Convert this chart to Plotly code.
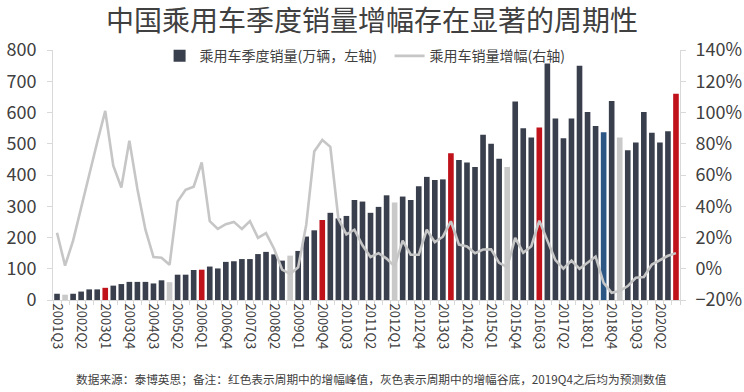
import plotly.graph_objects as go

quarters = [
    "2001Q3", "2001Q4",
    "2002Q1", "2002Q2", "2002Q3", "2002Q4",
    "2003Q1", "2003Q2", "2003Q3", "2003Q4",
    "2004Q1", "2004Q2", "2004Q3", "2004Q4",
    "2005Q1", "2005Q2", "2005Q3", "2005Q4",
    "2006Q1", "2006Q2", "2006Q3", "2006Q4",
    "2007Q1", "2007Q2", "2007Q3", "2007Q4",
    "2008Q1", "2008Q2", "2008Q3", "2008Q4",
    "2009Q1", "2009Q2", "2009Q3", "2009Q4",
    "2010Q1", "2010Q2", "2010Q3", "2010Q4",
    "2011Q1", "2011Q2", "2011Q3", "2011Q4",
    "2012Q1", "2012Q2", "2012Q3", "2012Q4",
    "2013Q1", "2013Q2", "2013Q3", "2013Q4",
    "2014Q1", "2014Q2", "2014Q3", "2014Q4",
    "2015Q1", "2015Q2", "2015Q3", "2015Q4",
    "2016Q1", "2016Q2", "2016Q3", "2016Q4",
    "2017Q1", "2017Q2", "2017Q3", "2017Q4",
    "2018Q1", "2018Q2", "2018Q3", "2018Q4",
    "2019Q1", "2019Q2", "2019Q3", "2019Q4",
    "2020Q1", "2020Q2", "2020Q3", "2020Q4",
]

# 乘用车季度销量 (万辆, 左轴)
sales = [
    20, 17,
    20, 27, 34, 34,
    39, 46, 51, 58,
    58, 58, 53, 63,
    57, 81, 81, 96,
    97, 107, 101, 122,
    124, 131, 131, 147,
    154, 146, 126, 142,
    157, 203, 223, 256,
    279, 261, 269, 320,
    315, 279, 298, 335,
    312, 331, 320, 364,
    394, 384, 386, 470,
    448, 440, 426, 529,
    500, 452, 426, 635,
    550, 520, 552, 757,
    581, 518, 581, 750,
    602, 557, 537, 637,
    520, 479, 504, 602,
    535, 504, 540, 660,
]

# 乘用车销量增幅 (%, 右轴)
growth = [
    23, 2,
    18, 40, 60, 81,
    101, 66, 52, 82,
    51, 25, 7.5, 7,
    2.5, 43, 50.5, 52.5,
    68, 30.5, 25.5, 28.5,
    30, 25.5, 30.5, 19.8,
    22.8, 12.8, -0.5, -3.3,
    1, 28, 75, 82.4,
    78, 32, 22, 25,
    15, 7.5, 10, 6.5,
    1.5, 18, 9, 9,
    25, 17, 20.5, 30.4,
    15.5, 14.3, 10, 12.3,
    12.5, 3.8, 1, 19.8,
    10.2, 14.4, 30.8, 18,
    5.5, 0, 5.2, 0,
    3.8, 7.8, -9, -15.4,
    -14.3, -11.1, -5.8, -5.3,
    2.7, 5.4, 8.3, 10,
]

peak_quarters = ["2003Q1", "2006Q1", "2009Q4", "2013Q4", "2016Q3", "2020Q4"]
trough_quarters = ["2001Q4", "2005Q1", "2008Q4", "2012Q1", "2015Q3", "2019Q1"]
blue_quarters = ["2018Q3"]

tick_labels = [
    "2001Q3", "2002Q2", "2003Q1", "2003Q4", "2004Q3", "2005Q2", "2006Q1",
    "2006Q4", "2007Q3", "2008Q2", "2009Q1", "2009Q4", "2010Q3", "2011Q2",
    "2012Q1", "2012Q4", "2013Q3", "2014Q2", "2015Q1", "2015Q4", "2016Q3",
    "2017Q2", "2018Q1", "2018Q4", "2019Q3", "2020Q2",
]

DARK = "#393F4C"
RED = "#C0121B"
GREY = "#C9C9C9"
BLUE = "#2C5785"
AXIS = "#D9D9D9"
TEXT = "#404040"
FONT = "Noto Sans CJK SC"

bar_colors = []
for q in quarters:
    if q in peak_quarters:
        bar_colors.append(RED)
    elif q in trough_quarters:
        bar_colors.append(GREY)
    elif q in blue_quarters:
        bar_colors.append(BLUE)
    else:
        bar_colors.append(DARK)

ticktext = [q if q in tick_labels else "" for q in quarters]

fig = go.Figure()
fig.add_trace(go.Bar(
    x=quarters, y=sales, name="乘用车季度销量(万辆，左轴)",
    marker=dict(color=bar_colors, line=dict(width=0)),
    yaxis="y",
))
fig.add_trace(go.Scatter(
    x=quarters, y=growth, name="乘用车销量增幅(右轴)",
    mode="lines", line=dict(color="#C6C6C6", width=2.6),
    yaxis="y2",
))

fig.update_layout(
    width=744, height=392,
    margin=dict(l=53, r=64, t=50, b=92),
    paper_bgcolor="white", plot_bgcolor="white",
    font=dict(family=FONT, color=TEXT),
    bargap=0.3,
    showlegend=True,
    title=dict(
        text="中国乘用车季度销量增幅存在显著的周期性",
        x=0.5, xanchor="center", y=1 - 21 / 392, yanchor="middle",
        yref="container",
        font=dict(size=28, color=TEXT, family=FONT),
    ),
    legend=dict(
        orientation="h", x=0.17, xanchor="left", y=0.975, yanchor="middle",
        font=dict(size=14, color=TEXT, family=FONT),
        bgcolor="rgba(0,0,0,0)", itemwidth=30,
        entrywidth=185, entrywidthmode="pixels",
    ),
    xaxis=dict(
        type="category",
        tickmode="array", tickvals=quarters, ticktext=ticktext,
        tickangle=90, tickfont=dict(size=13, color=TEXT),
        showline=True, linecolor=AXIS, linewidth=1,
        ticks="outside", ticklen=4, tickcolor=AXIS, tickson="boundaries",
        showgrid=False, zeroline=False, automargin=False,
    ),
    yaxis=dict(
        range=[0, 800], dtick=100,
        showline=True, linecolor=AXIS, linewidth=1,
        ticks="outside", ticklen=5, tickcolor=AXIS,
        tickfont=dict(size=18, color=TEXT), ticklabelstandoff=7,
        showgrid=False, zeroline=False, automargin=False,
    ),
    yaxis2=dict(
        range=[-20, 140], dtick=20, ticksuffix="%",
        overlaying="y", side="right",
        showline=True, linecolor=AXIS, linewidth=1,
        ticks="outside", ticklen=5, tickcolor=AXIS,
        tickfont=dict(size=18, color=TEXT), ticklabelstandoff=6,
        showgrid=False, zeroline=False, automargin=False,
    ),
    annotations=[dict(
        text="数据来源：泰博英思；备注：红色表示周期中的增幅峰值，灰色表示周期中的增幅谷底，2019Q4之后均为预测数值",
        xref="paper", yref="paper", x=0.508, y=-0.312,
        xanchor="center", yanchor="middle", showarrow=False,
        font=dict(size=11.7, color=TEXT, family=FONT),
    )],
)

fig.write_html(
    "out.html",
    config={"displayModeBar": False},
    post_script="document.body.style.margin='0';",
)
